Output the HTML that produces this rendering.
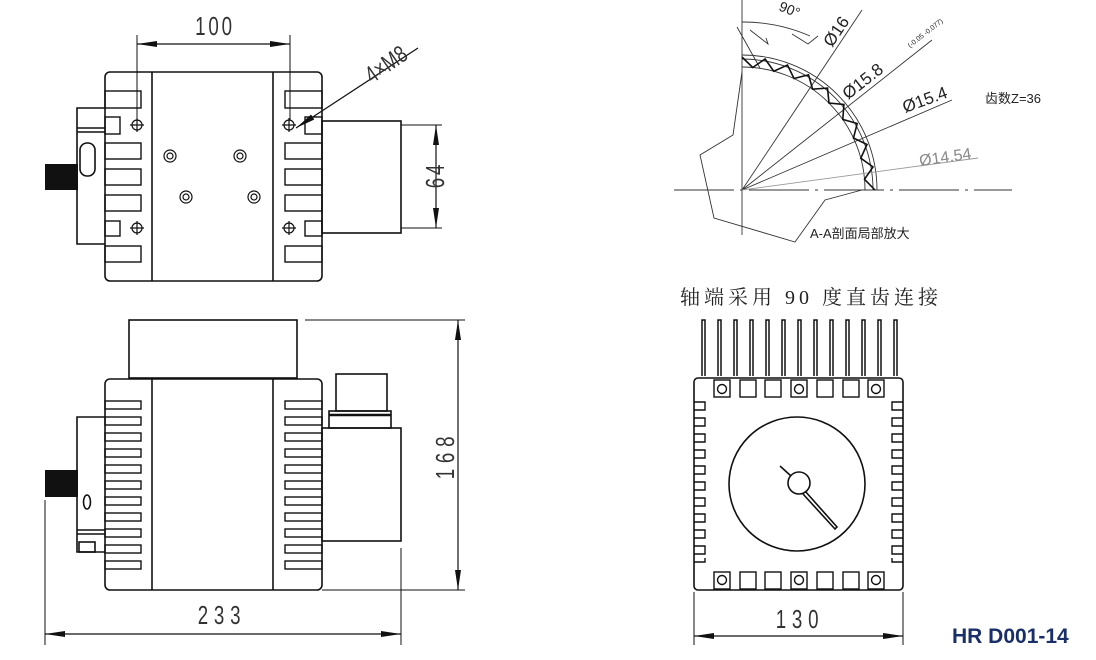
<!DOCTYPE html>
<html><head><meta charset="utf-8"><style>
html,body{margin:0;padding:0;background:#fff;}
svg{display:block;}
text{font-family:"Liberation Sans","Noto Sans CJK SC",sans-serif;}
</style></head><body>
<svg width="1096" height="660" viewBox="0 0 1096 660" xmlns="http://www.w3.org/2000/svg">
<defs>
<marker id="ar" viewBox="0 0 20 8" refX="20" refY="4" markerWidth="20" markerHeight="8" orient="auto-start-reverse" markerUnits="userSpaceOnUse"><path d="M0,1 L20,4 L0,7 Z" fill="#111"/></marker>
</defs>
<rect width="1096" height="660" fill="#fff"/>
<g fill="none" stroke="#111" stroke-width="1.6">
<!-- TOP VIEW -->
<rect x="105" y="72" width="217" height="209" rx="5"/>
<line x1="152" y1="72" x2="152" y2="281"/><line x1="273" y1="72" x2="273" y2="281"/>
<g stroke-width="1.4">
<rect x="105" y="91" width="36" height="17"/><rect x="105" y="117" width="15" height="17"/>
<rect x="105" y="143" width="36" height="16"/><rect x="105" y="169" width="36" height="16"/>
<rect x="105" y="195" width="36" height="16"/><rect x="105" y="221" width="15" height="15"/>
<rect x="105" y="246" width="36" height="16"/>
<rect x="285" y="91" width="37" height="17"/><rect x="305" y="117" width="17" height="17"/>
<rect x="285" y="143" width="37" height="16"/><rect x="285" y="169" width="37" height="16"/>
<rect x="285" y="195" width="37" height="16"/><rect x="305" y="221" width="17" height="15"/>
<rect x="285" y="246" width="37" height="16"/>
</g>
<rect x="322" y="121" width="79" height="112"/>
<line x1="401" y1="125" x2="442" y2="125" stroke-width="1"/><line x1="401" y1="228" x2="442" y2="228" stroke-width="1"/>
<line x1="436" y1="125" x2="436" y2="228" stroke-width="1.2" marker-start="url(#ar)" marker-end="url(#ar)"/>
<path d="M105,108 H77 V244 H105"/><line x1="77" y1="128" x2="105" y2="128"/><line x1="77" y1="132" x2="105" y2="132"/>
<rect x="80" y="143" width="15" height="33" rx="7"/>
<g stroke-width="1.2">
<circle cx="137" cy="125" r="5"/><circle cx="289" cy="125" r="5"/><circle cx="137" cy="228" r="5"/><circle cx="289" cy="228" r="5"/>
<path d="M130,125h14M137,118v14M282,125h14M289,118v14M130,228h14M137,221v14M282,228h14M289,221v14"/>
<circle cx="170" cy="156" r="6"/><circle cx="170" cy="156" r="3"/><circle cx="240" cy="156" r="6"/><circle cx="240" cy="156" r="3"/>
<circle cx="186" cy="197" r="6"/><circle cx="186" cy="197" r="3"/><circle cx="254" cy="197" r="6"/><circle cx="254" cy="197" r="3"/>
</g>
<line x1="137" y1="35" x2="137" y2="120" stroke-width="1"/><line x1="290" y1="35" x2="290" y2="120" stroke-width="1"/>
<line x1="137" y1="44" x2="290" y2="44" stroke-width="1.2" marker-start="url(#ar)" marker-end="url(#ar)"/>
<line x1="418" y1="48" x2="296" y2="128" stroke-width="1.2" marker-end="url(#ar)"/>
<!-- BOTTOM VIEW -->
<rect x="129" y="320" width="168" height="58"/>
<rect x="105" y="379" width="217" height="211" rx="5"/>
<line x1="152" y1="379" x2="152" y2="590"/><line x1="273" y1="379" x2="273" y2="590"/>
<g stroke-width="1.4">
<rect x="105" y="401" width="36" height="8"/><rect x="105" y="417" width="36" height="8"/><rect x="105" y="433" width="36" height="8"/><rect x="105" y="449" width="36" height="8"/><rect x="105" y="465" width="36" height="8"/><rect x="105" y="481" width="36" height="8"/><rect x="105" y="497" width="36" height="8"/><rect x="105" y="513" width="36" height="8"/><rect x="105" y="529" width="36" height="8"/><rect x="105" y="545" width="36" height="8"/><rect x="105" y="561" width="36" height="8"/>
<rect x="285" y="401" width="37" height="8"/><rect x="285" y="417" width="37" height="8"/><rect x="285" y="433" width="37" height="8"/><rect x="285" y="449" width="37" height="8"/><rect x="285" y="465" width="37" height="8"/><rect x="285" y="481" width="37" height="8"/><rect x="285" y="497" width="37" height="8"/><rect x="285" y="513" width="37" height="8"/><rect x="285" y="529" width="37" height="8"/><rect x="285" y="545" width="37" height="8"/><rect x="285" y="561" width="37" height="8"/>
</g>
<rect x="322" y="428" width="79" height="113"/>
<rect x="336" y="374" width="51" height="37"/>
<rect x="329" y="411" width="62" height="17"/><line x1="329" y1="415" x2="391" y2="415" stroke-width="2.5"/>
<path d="M105,417 H77 V552 H105"/><line x1="77" y1="530" x2="105" y2="530"/><line x1="77" y1="534" x2="105" y2="534"/>
<rect x="79" y="542" width="16" height="10"/>
<ellipse cx="87" cy="502" rx="3.5" ry="7"/>
<line x1="305" y1="320" x2="465" y2="320" stroke-width="1"/><line x1="322" y1="590" x2="465" y2="590" stroke-width="1"/>
<line x1="458" y1="320" x2="458" y2="590" stroke-width="1.2" marker-start="url(#ar)" marker-end="url(#ar)"/>
<line x1="45" y1="500" x2="45" y2="645" stroke-width="1"/><line x1="401" y1="548" x2="401" y2="645" stroke-width="1"/>
<line x1="45" y1="634" x2="401" y2="634" stroke-width="1.2" marker-start="url(#ar)" marker-end="url(#ar)"/>
<!-- RIGHT BOTTOM VIEW -->
<g stroke-width="1.5">
<path d="M702,376V320h3v56M718,376V320h3v56M734,376V320h3v56M750,376V320h3v56M766,376V320h3v56M782,376V320h3v56M798,376V320h3v56M814,376V320h3v56M830,376V320h3v56M846,376V320h3v56M862,376V320h3v56M878,376V320h3v56M894,376V320h3v56"/>
</g>
<rect x="694" y="378" width="209" height="212" rx="4"/>
<g stroke-width="1.4">
<rect x="714" y="380" width="16" height="17"/><rect x="740" y="380" width="16" height="17"/><rect x="765" y="380" width="16" height="17"/><rect x="791" y="380" width="16" height="17"/><rect x="817" y="380" width="16" height="17"/><rect x="843" y="380" width="16" height="17"/><rect x="868" y="380" width="16" height="17"/>
<rect x="714" y="572" width="16" height="17"/><rect x="740" y="572" width="16" height="17"/><rect x="765" y="572" width="16" height="17"/><rect x="791" y="572" width="16" height="17"/><rect x="817" y="572" width="16" height="17"/><rect x="843" y="572" width="16" height="17"/><rect x="868" y="572" width="16" height="17"/>
<circle cx="722" cy="389" r="4.5"/><circle cx="799" cy="389" r="4.5"/><circle cx="876" cy="389" r="4.5"/>
<circle cx="722" cy="580" r="4.5"/><circle cx="799" cy="580" r="4.5"/><circle cx="876" cy="580" r="4.5"/>
<path d="M694,402h11v8h-11M694,418h11v8h-11M694,434h11v8h-11M694,450h11v8h-11M694,466h11v8h-11M694,482h11v8h-11M694,498h11v8h-11M694,514h11v8h-11M694,530h11v8h-11M694,546h11v8h-11M694,562h11v-4"/>
<path d="M903,402h-11v8h11M903,418h-11v8h11M903,434h-11v8h11M903,450h-11v8h11M903,466h-11v8h11M903,482h-11v8h11M903,498h-11v8h11M903,514h-11v8h11M903,530h-11v8h11M903,546h-11v8h11M903,562h-11v-4"/>
</g>
<ellipse cx="797" cy="484" rx="68" ry="67"/>
<circle cx="799" cy="483" r="11"/>
<path d="M780,466l11,10M805,491l32,36l-2,2l-32,-35"/>
<line x1="694" y1="592" x2="694" y2="645" stroke-width="1"/><line x1="903" y1="592" x2="903" y2="645" stroke-width="1"/>
<line x1="694" y1="636" x2="903" y2="636" stroke-width="1.2" marker-start="url(#ar)" marker-end="url(#ar)"/>
</g>
<rect x="45" y="164" width="33" height="26" fill="#111"/>
<rect x="45" y="470" width="33" height="27" fill="#111"/>
<!-- GEAR DETAIL -->
<g fill="none" stroke="#333" stroke-width="0.9">
<line x1="742" y1="0" x2="742" y2="235"/>
<line x1="674" y1="190" x2="1012" y2="190" stroke-dasharray="60,6,3,6"/>
<path d="M742,67 A123,123 0 0 1 865,190"/>
<path d="M742,59 A131,131 0 0 1 873,190"/>
<path d="M742,55 A135,135 0 0 1 877,190"/>
<path d="M742,72 L733,135 L700,155 L714,218 L795,242 L825,200 L862,190"/>
<path d="M742,190 L862,10 M742,190 L932,40 M742,190 L952,100"/>
<line x1="742" y1="190" x2="978" y2="158" stroke="#999"/>
<path d="M742,22 A168,168 0 0 1 810,36" />
<path d="M737,27 L760,68 M750,30 L768,44 L766,38 M792,34 L808,44 L818,36"/>
</g>
<polyline fill="none" stroke="#111" stroke-width="1.6" points="742,57 752.7,67.5 765.1,59 773.8,71.2 787.5,65 794,78.5 808.5,74.8 812.6,89.2 827.5,88.1 829,103 843.9,104.5 842.8,119.4 857.2,123.5 853.5,138 867,144.5 860.8,158.2 873,166.9 864.5,179.3 875,190"/>
<g fill="#222">
<text x="0" y="0" transform="translate(778,10) rotate(22)" font-size="14">90°</text>
<text x="0" y="0" transform="translate(832,48) rotate(-56)" font-size="17">Ø16</text>
<text x="0" y="0" transform="translate(848,100) rotate(-38)" font-size="17">Ø15.8</text>
<text x="0" y="0" transform="translate(910,48) rotate(-38)" font-size="7">(-0.05 -0.077)</text>
<text x="0" y="0" transform="translate(905,113) rotate(-20)" font-size="17">Ø15.4</text>
<text x="0" y="0" transform="translate(920,166) rotate(-8)" font-size="16" fill="#888">Ø14.54</text>
<text x="985" y="103" font-size="13">齿数Z=36</text>
<text x="810" y="238" font-size="13">A-A剖面局部放大</text>
</g>
<text x="680" y="304" font-size="20" fill="#222" letter-spacing="4" style="font-family:'Liberation Serif','Noto Serif CJK SC',serif">轴端采用 90 度直齿连接</text>
<g font-size="26" fill="#333">
<text x="0" y="0" transform="translate(215,35) scale(0.72,1)" text-anchor="middle" letter-spacing="4">100</text>
<text x="0" y="0" transform="translate(444,175) rotate(-90) scale(0.72,1)" text-anchor="middle" letter-spacing="4">64</text>
<text x="0" y="0" transform="translate(454,455) rotate(-90) scale(0.72,1)" text-anchor="middle" letter-spacing="8">168</text>
<text x="0" y="0" transform="translate(222,624) scale(0.72,1)" text-anchor="middle" letter-spacing="8">233</text>
<text x="0" y="0" transform="translate(800,628) scale(0.72,1)" text-anchor="middle" letter-spacing="8">130</text>
<text x="0" y="0" transform="translate(372,84) rotate(-35) scale(0.75,1)" font-size="24">4×M8</text>
</g>
<text x="952" y="643" font-size="21" font-weight="bold" fill="#1a2f6a">HR D001-14</text>
</svg>
</body></html>
